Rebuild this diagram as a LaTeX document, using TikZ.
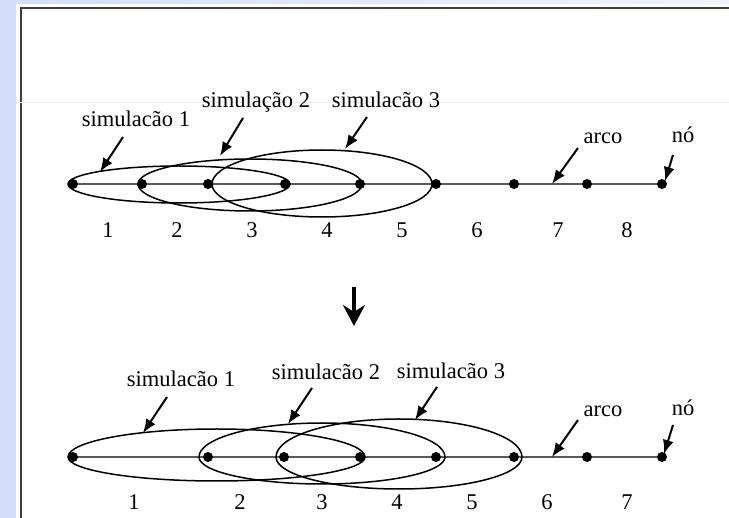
\documentclass[tikz,border=0pt]{standalone}
\usepackage{fontspec}
\setmainfont{Liberation Serif}
\usetikzlibrary{arrows.meta,backgrounds}
\definecolor{bgblue}{RGB}{212,222,250}
\begin{document}
\begin{tikzpicture}[x=1pt,y=-1pt,
  dot/.style={circle,fill=black,inner sep=0pt,minimum size=10pt},
  arcline/.style={line width=2pt,draw=black!65},
  sim/.style={line width=1.5pt},
  pointer/.style={line width=2pt,-{Latex[length=14pt,width=11pt]}},
  bigarrow/.style={line width=4pt,-{Stealth[length=21pt,width=22pt,inset=7pt]}},
  lbl/.style={anchor=base,inner sep=0pt,font=\fontsize{22.5}{26}\selectfont},
]
\useasboundingbox (0,0) rectangle (729,518);
\begin{pgfonlayer}{background}
\shade[left color=bgblue,right color=bgblue!35] (0,0) rectangle (729,518);
\fill[white] (16,4) rectangle (740,530);
\draw[line width=2.5pt,black!75] (21,530) -- (21,8) -- (740,8);
\draw[black!7,line width=0.8pt] (16,102) -- (729,102);
\end{pgfonlayer}

% ---------- top row ----------
\foreach \n/\x in {1/73,2/142,3/208,4/285,5/360,6/436,7/514,8/587,9/662}
  \node[dot] (t\n) at (\x,184) {};
\begin{pgfonlayer}{background}
\draw[arcline] (t1.center) -- (t9.center);
\end{pgfonlayer}
\foreach \n/\x in {1/108,2/177,3/252,4/327,5/402,6/477,7/558,8/627}
  \node[lbl] (tn\n) at (\x,238) {\n};

\draw[sim] (68,184) arc[start angle=180,end angle=0,x radius=111pt,y radius=18pt]
                    arc[start angle=0,end angle=-180,x radius=111pt,y radius=19pt];
\draw[sim] (138,184) arc[start angle=180,end angle=0,x radius=112pt,y radius=25pt]
                     arc[start angle=0,end angle=-180,x radius=112pt,y radius=27pt];
\draw[sim] (212,184) arc[start angle=180,end angle=0,x radius=110pt,y radius=34pt]
                     arc[start angle=0,end angle=-180,x radius=110pt,y radius=33pt];

\node[lbl] (ts1) at (136,127) {simulacão 1};
\node[lbl] (ts2) at (256,108) {simulação 2};
\node[lbl] (ts3) at (386,108) {simulacão 3};
\node[lbl] (tarco) at (603,144) {arco};
\node[lbl] (tno) at (683,143) {nó};

\coordinate (ta1s) at (123,137); \coordinate (ta1e) at (100,172);
\coordinate (ta2s) at (243,118); \coordinate (ta2e) at (220,156);
\coordinate (ta3s) at (367,117); \coordinate (ta3e) at (345,149);
\coordinate (ta4s) at (578,148); \coordinate (ta4e) at (552,184);
\coordinate (ta5s) at (673,155); \coordinate (ta5e) at (665,181);
\draw[pointer] (ta1s) -- (ta1e);
\draw[pointer] (ta2s) -- (ta2e);
\draw[pointer] (ta3s) -- (ta3e);
\draw[pointer] (ta4s) -- (ta4e);
\draw[pointer] (ta5s) -- (ta5e);

% ---------- transition arrow ----------
\coordinate (ds) at (354,287); \coordinate (de) at (354,326);
\draw[bigarrow] (ds) -- (de);

% ---------- bottom row ----------
\foreach \n/\x in {1/73,2/208,3/284,4/360,5/436,6/514,7/587,8/662}
  \node[dot] (b\n) at (\x,457) {};
\begin{pgfonlayer}{background}
\draw[arcline] (b1.center) -- (b8.center);
\end{pgfonlayer}
\foreach \n/\x in {1/134,2/240,3/322,4/397,5/472,6/547,7/627}
  \node[lbl] (bn\n) at (\x,510) {\n};

\draw[sim] (68,457) arc[start angle=180,end angle=0,x radius=148.5pt,y radius=28pt]
                    arc[start angle=0,end angle=-180,x radius=148.5pt,y radius=24pt];
\draw[sim] (199,457) arc[start angle=180,end angle=0,x radius=123pt,y radius=34pt]
                     arc[start angle=0,end angle=-180,x radius=123pt,y radius=27pt];
\draw[sim] (276,457) arc[start angle=180,end angle=0,x radius=123pt,y radius=38pt]
                     arc[start angle=0,end angle=-180,x radius=123pt,y radius=32pt];

\node[lbl] (bs1) at (181,387) {simulacão 1};
\node[lbl] (bs2) at (326,380) {simulacão 2};
\node[lbl] (bs3) at (451,379) {simulacão 3};
\node[lbl] (barco) at (603,417) {arco};
\node[lbl] (bno) at (683,416) {nó};

\coordinate (ba1s) at (167,397); \coordinate (ba1e) at (143,433);
\coordinate (ba2s) at (312,388); \coordinate (ba2e) at (288,424);
\coordinate (ba3s) at (437,387); \coordinate (ba3e) at (415,420);
\coordinate (ba4s) at (578,420); \coordinate (ba4e) at (552,457);
\coordinate (ba5s) at (673,425); \coordinate (ba5e) at (664,454);
\draw[pointer] (ba1s) -- (ba1e);
\draw[pointer] (ba2s) -- (ba2e);
\draw[pointer] (ba3s) -- (ba3e);
\draw[pointer] (ba4s) -- (ba4e);
\draw[pointer] (ba5s) -- (ba5e);
\end{tikzpicture}
\end{document}
